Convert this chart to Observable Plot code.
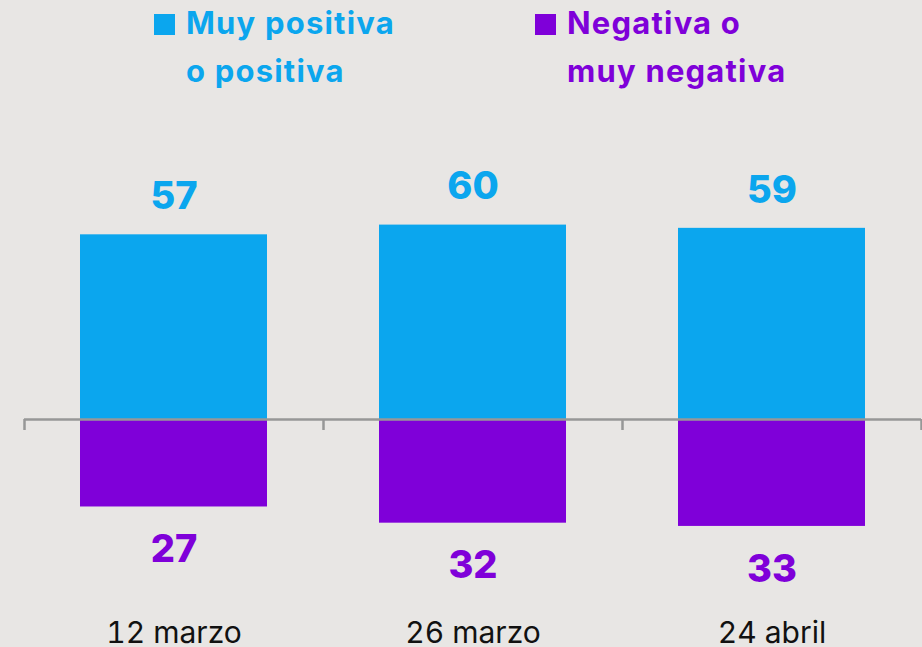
<!DOCTYPE html>
<html>
<head>
<meta charset="utf-8">
<script src="https://cdn.jsdelivr.net/npm/d3@7"></script>
<script src="https://cdn.jsdelivr.net/npm/@observablehq/plot@0.6"></script>
<style>
  html, body { margin: 0; padding: 0; background: #e8e6e4; overflow: hidden; }
  body { width: 922px; height: 647px; font-family: Inter, "Open Sans", sans-serif; }
  #legend { position: relative; height: 110px; }
  .item { position: absolute; top: -1px; font-weight: 700; font-size: 31px; line-height: 48px; letter-spacing: 1.2px; }
  .sw { position: absolute; width: 21px; height: 21px; top: 15px; }
  .lbl { position: absolute; left: 32px; top: 0; white-space: nowrap; }
  #chart svg { display: block; }
</style>
</head>
<body>
<div id="legend"></div>
<div id="chart"></div>
<script>
const categories = ["12 marzo", "26 marzo", "24 abril"];
const positive = [57, 60, 59];
const negative = [27, 32, 33];
const seriesNames = [["Muy positiva", "o positiva"], ["Negativa o", "muy negativa"]];
const colors = ["#0ba6ee", "#7f00d9"];

const data = categories.map((c, i) => ({i, c, pos: positive[i], neg: negative[i]}));

// legend
const legend = document.getElementById("legend");
const legendLeft = [154, 535];
seriesNames.forEach((lines, k) => {
  const it = document.createElement("div");
  it.className = "item";
  it.style.left = legendLeft[k] + "px";
  it.style.color = colors[k];
  it.innerHTML = `<div class="sw" style="background:${colors[k]}"></div><div class="lbl">${lines.join("<br>")}</div>`;
  legend.appendChild(it);
});

const W = 922, H = 537, base = 309, pxPerUnit = 3.24, yMax = 70;
const plot = Plot.plot({
  width: W,
  height: H,
  marginLeft: 24,
  marginRight: 1,
  marginBottom: H - base,
  marginTop: base - yMax * pxPerUnit,
  style: {background: "transparent", fontFamily: "Inter, 'Open Sans', sans-serif"},
  x: {domain: [0, categories.length], axis: null},
  y: {domain: [0, yMax], axis: null},
  marks: [
    Plot.rectY(data, {x1: d => d.i, x2: d => d.i + 1, y1: 0, y2: d => d.pos, insetLeft: 56, insetRight: 56, fill: colors[0]}),
    Plot.rectY(data, {x1: d => d.i, x2: d => d.i + 1, y1: 0, y2: d => -d.neg, insetLeft: 56, insetRight: 56, fill: colors[1]}),
    Plot.ruleY([0], {stroke: "#979797", strokeWidth: 2.5}),
    Plot.axisX({ticks: d3.range(categories.length + 1), tickSize: 11, tickFormat: () => "", stroke: "#979797", strokeWidth: 2.5}),
    Plot.axisX({ticks: data.map(d => d.i + 0.5), tickSize: 0, tickPadding: 202, tickFormat: v => categories[Math.floor(v)], fontSize: 30, fill: "#111"}),
    Plot.text(data, {x: d => d.i + 0.5, y: d => d.pos, text: d => String(d.pos), dy: -38, lineAnchor: "middle", fontSize: 38, fontWeight: 800, fill: colors[0]}),
    Plot.text(data, {x: d => d.i + 0.5, y: d => -d.neg, text: d => String(d.neg), dy: 43, lineAnchor: "middle", fontSize: 38, fontWeight: 800, fill: colors[1]})
  ]
});
document.getElementById("chart").appendChild(plot);
</script>
</body>
</html>
